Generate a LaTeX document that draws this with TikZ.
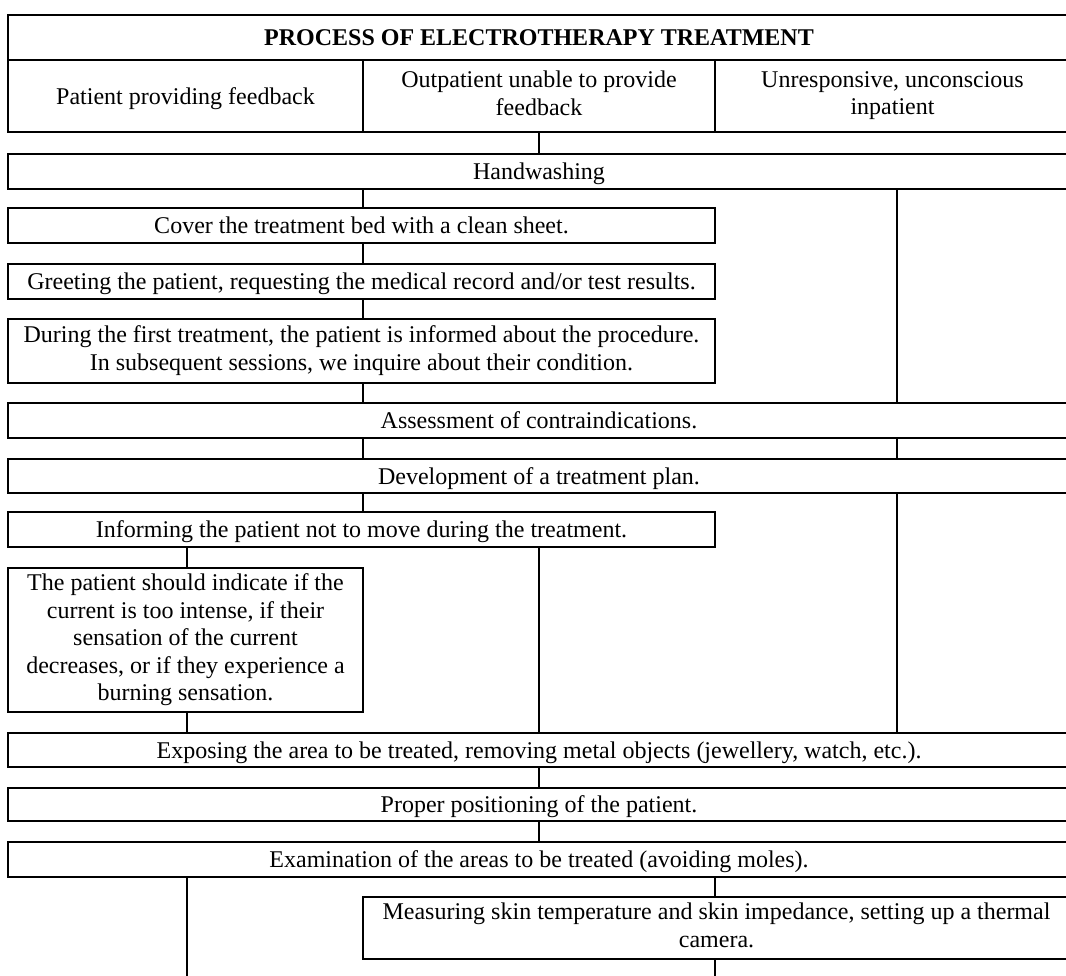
\documentclass[tikz,border=0pt]{standalone}
\usepackage{fontspec}
\setmainfont{Liberation Serif}
\newcommand{\boxstrut}{\rule[-5.5pt]{0pt}{27pt}}
\begin{document}
\begin{tikzpicture}[x=1pt,y=-1pt,
  box/.style={draw, line width=2.7pt, rectangle, inner sep=0pt, align=center,
    font=\fontsize{24}{27.5}\selectfont,
    execute at begin node=\boxstrut, execute at end node=\boxstrut},
  link/.style={line width=2.7pt}]
\useasboundingbox (0,0) rectangle (1066,975);
\clip (0,0) rectangle (1066,975);
\coordinate (c0) at (187,0);
\coordinate (c1) at (363,0);
\coordinate (c2) at (539,0);
\coordinate (cm) at (715,0);
\coordinate (c3) at (897,0);
\coordinate (end1) at (187,990);
\coordinate (end2) at (715,990);

\node[box, minimum width=1062pt, minimum height=45pt] (title) at (539,37.5)
  {\textbf{PROCESS OF ELECTROTHERAPY TREATMENT}};
\node[box, minimum width=355pt, minimum height=72pt] (h1) at (185.5,96)
  {Patient providing feedback};
\node[box, minimum width=352pt, minimum height=72pt] (h2) at (539,96)
  {Outpatient unable to provide\\feedback};
\node[box, minimum width=355pt, minimum height=72pt] (h3) at (892.5,96)
  {Unresponsive, unconscious\\inpatient};
\node[box, minimum width=1062pt, minimum height=35pt] (hw) at (539,171.5)
  {Handwashing};
\node[box, minimum width=707pt, minimum height=35pt] (cover) at (361.5,225.5)
  {Cover the treatment bed with a clean sheet.};
\node[box, minimum width=707pt, minimum height=35pt] (greet) at (361.5,281.5)
  {Greeting the patient, requesting the medical record and/or test results.};
\node[box, minimum width=707pt, minimum height=64pt] (during) at (361.5,351)
  {During the first treatment, the patient is informed about the procedure.\\In subsequent sessions, we inquire about their condition.};
\node[box, minimum width=1062pt, minimum height=35pt] (assess) at (539,420.5)
  {Assessment of contraindications.};
\node[box, minimum width=1062pt, minimum height=34pt] (dev) at (539,476)
  {Development of a treatment plan.};
\node[box, minimum width=707pt, minimum height=35pt] (inform) at (361.5,529.5)
  {Informing the patient not to move during the treatment.};
\node[box, minimum width=355pt, minimum height=144pt] (pat) at (185.5,640)
  {The patient should indicate if the\\current is too intense, if their\\sensation of the current\\decreases, or if they experience a\\burning sensation.};
\node[box, minimum width=1062pt, minimum height=34pt] (expose) at (539,750)
  {Exposing the area to be treated, removing metal objects (jewellery, watch, etc.).};
\node[box, minimum width=1062pt, minimum height=33pt] (proper) at (539,804.5)
  {Proper positioning of the patient.};
\node[box, minimum width=1062pt, minimum height=35pt] (exam) at (539,859.5)
  {Examination of the areas to be treated (avoiding moles).};
\node[box, minimum width=707pt, minimum height=62pt] (meas) at (716.5,928)
  {Measuring skin temperature and skin impedance, setting up a thermal\\camera.};

\draw[link] (h2.south) -- (hw.north);
\draw[link] (hw.south -| c1) -- (cover.north -| c1);
\draw[link] (hw.south -| c3) -- (assess.north -| c3);
\draw[link] (cover.south -| c1) -- (greet.north -| c1);
\draw[link] (greet.south -| c1) -- (during.north -| c1);
\draw[link] (during.south -| c1) -- (assess.north -| c1);
\draw[link] (assess.south -| c1) -- (dev.north -| c1);
\draw[link] (assess.south -| c3) -- (dev.north -| c3);
\draw[link] (dev.south -| c1) -- (inform.north -| c1);
\draw[link] (dev.south -| c3) -- (expose.north -| c3);
\draw[link] (inform.south -| c0) -- (pat.north -| c0);
\draw[link] (inform.south -| c2) -- (expose.north -| c2);
\draw[link] (pat.south -| c0) -- (expose.north -| c0);
\draw[link] (expose.south -| c2) -- (proper.north -| c2);
\draw[link] (proper.south -| c2) -- (exam.north -| c2);
\draw[link] (exam.south -| c0) -- (end1);
\draw[link] (exam.south -| cm) -- (meas.north -| cm);
\draw[link] (meas.south -| cm) -- (end2);
\end{tikzpicture}
\end{document}
